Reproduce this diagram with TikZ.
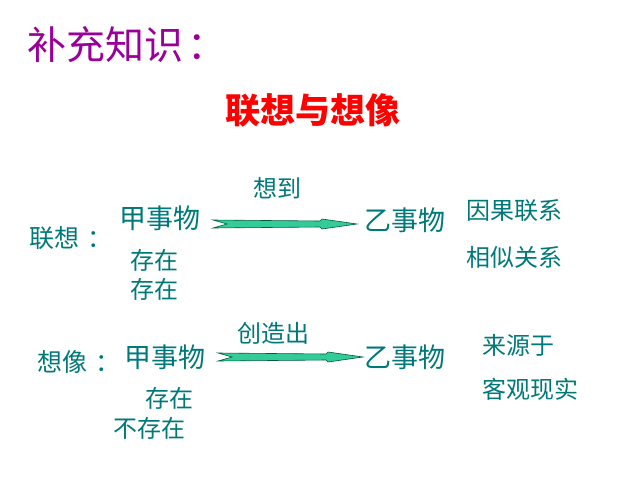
\documentclass[tikz,border=0pt]{standalone}
\usepackage{fontspec}
\setmainfont{Noto Sans CJK SC}
\newfontfamily\cjk{Noto Sans CJK SC}
\usetikzlibrary{calc}
\definecolor{tealtxt}{RGB}{0,120,120}
\definecolor{purp}{RGB}{153,0,153}
\definecolor{arrfill}{RGB}{51,204,153}
\definecolor{arrline}{RGB}{0,90,60}
\tikzset{
  lbl/.style={inner sep=0pt, text=tealtxt, font=\cjk\fontsize{24}{28}\selectfont},
  big/.style={lbl, font=\cjk\fontsize{27}{31}\selectfont},
  blockarrow/.style={fill=arrfill, draw=arrline, line width=0.6pt, line join=miter}
}
\begin{document}
\begin{tikzpicture}[x=1pt,y=-1pt]
\useasboundingbox (0,0) rectangle (640,480);
\node[anchor=west, inner sep=0pt, text=purp, font=\cjk\fontsize{39}{43}\selectfont] (head) at (27,45) {补充知识\kern4pt：};
\node[inner sep=0pt, text=red, font=\cjk\bfseries\fontsize{35}{39}\selectfont] (title) at (313,110) {联想与想像};

% row 1
\node[lbl] (xd) at (277,188) {想到};
\node[lbl, anchor=west, font=\cjk\fontsize{25}{29}\selectfont] (lx) at (29,238) {联想\kern8pt：};
\node[big, anchor=west] (j1) at (119,218) {甲事物};
\node[big, anchor=west] (y1) at (364,220) {乙事物};
\node[lbl, anchor=west] (r1a) at (466,211) {因果联系};
\node[lbl, anchor=west] (r1b) at (466,257) {相似关系};
\node[lbl, anchor=west] (c1a) at (130,260) {存在};
\node[lbl, anchor=west] (c1b) at (130,289) {存在};
\coordinate (a1s) at (213,224);
\coordinate (a1e) at (357,224);
\draw[blockarrow] ($(a1s)+(0,-4)$) -- ($(a1e)+(-37,-3)$) -- ($(a1e)+(-35,-5)$) -- (a1e) -- ($(a1e)+(-35,5)$) -- ($(a1e)+(-37,3)$) -- ($(a1s)+(0,4)$) -- ($(a1s)+(14,0)$) -- cycle;

% row 2
\node[lbl] (cz) at (273,333) {创造出};
\node[lbl, anchor=west, font=\cjk\fontsize{25}{29}\selectfont] (xx) at (37,362) {想像\kern8pt：};
\node[big, anchor=west] (j2) at (124,357) {甲事物};
\node[big, anchor=west] (y2) at (364,357) {乙事物};
\node[lbl, anchor=west] (r2a) at (482,345) {来源于};
\node[lbl, anchor=west] (r2b) at (482,389) {客观现实};
\node[lbl, anchor=west] (c2a) at (145,398) {存在};
\node[lbl, anchor=west] (c2b) at (113,428) {不存在};
\coordinate (a2s) at (218,357);
\coordinate (a2e) at (363,357);
\draw[blockarrow] ($(a2s)+(0,-4)$) -- ($(a2e)+(-37,-3)$) -- ($(a2e)+(-35,-5)$) -- (a2e) -- ($(a2e)+(-35,5)$) -- ($(a2e)+(-37,3)$) -- ($(a2s)+(0,4)$) -- ($(a2s)+(14,0)$) -- cycle;
\end{tikzpicture}
\end{document}
